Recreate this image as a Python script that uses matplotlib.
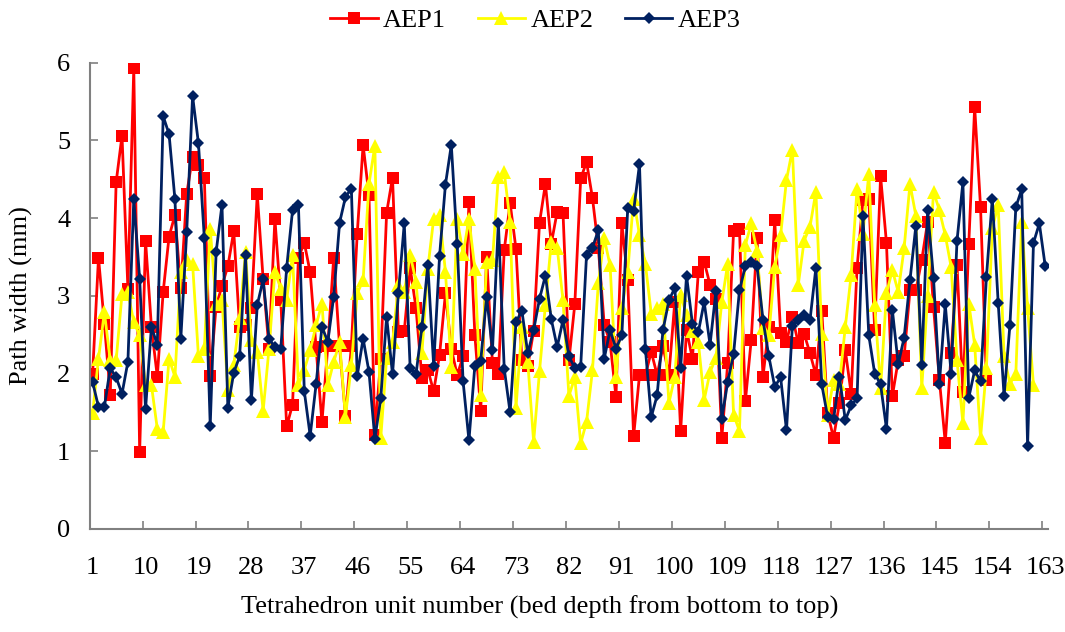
"""Path width per tetrahedron unit for three AEP samples."""

import matplotlib

matplotlib.use("Agg")
import matplotlib.pyplot as plt
import numpy as np

plt.rcParams["font.family"] = ["Liberation Serif", "DejaVu Serif"]

AEP1 = [
    2.00, 3.49, 2.64, 1.73, 4.46, 5.06, 3.09, 5.93, 0.99, 3.71,
    2.60, 1.96, 3.05, 3.76, 4.04, 3.10, 4.31, 4.79, 4.68, 4.52,
    1.97, 2.86, 3.13, 3.38, 3.83, 2.60, 2.62, 2.84, 4.31, 3.21,
    2.32, 3.99, 2.94, 1.32, 1.60, 3.49, 3.68, 3.30, 2.34, 1.37,
    2.36, 3.49, 2.35, 1.45, 2.35, 3.80, 4.94, 4.29, 1.21, 2.19,
    4.07, 4.52, 2.54, 2.55, 3.36, 2.84, 1.94, 2.05, 1.77, 2.24,
    3.03, 2.32, 1.98, 2.22, 4.21, 2.50, 1.52, 3.50, 2.13, 2.00,
    3.59, 4.19, 3.60, 2.17, 2.10, 2.55, 3.94, 4.44, 3.67, 4.08,
    4.06, 2.17, 2.89, 4.51, 4.72, 4.26, 3.62, 2.63, 2.40, 1.70,
    3.93, 3.20, 1.19, 1.98, 1.98, 2.28, 1.98, 2.35, 1.98, 2.92,
    1.26, 2.56, 2.19, 3.30, 3.44, 3.14, 2.96, 1.17, 2.13, 3.83,
    3.86, 1.64, 2.43, 3.74, 1.96, 2.60, 3.97, 2.52, 2.41, 2.73,
    2.39, 2.51, 2.26, 1.98, 2.81, 1.49, 1.17, 1.62, 2.30, 1.74,
    3.36, 4.23, 4.25, 2.56, 4.54, 3.68, 1.71, 2.17, 2.22, 3.07,
    3.07, 3.46, 3.95, 2.86, 1.92, 1.11, 2.26, 3.40, 1.76, 3.67,
    5.43, 4.14, 1.92,
]
AEP2 = [
    1.49, 2.19, 2.79, 2.17, 2.17, 3.02, 3.05, 2.66, 2.49, 1.85,
    1.85, 1.29, 1.25, 2.19, 1.96, 3.31, 3.46, 3.41, 2.22, 2.32,
    3.86, 2.90, 2.94, 1.79, 2.11, 2.71, 3.56, 2.43, 2.28, 1.52,
    2.32, 3.31, 3.09, 2.95, 3.52, 1.85, 2.05, 2.30, 2.62, 2.90,
    1.85, 2.15, 2.40, 1.44, 2.11, 3.03, 3.20, 4.44, 4.93, 1.17,
    2.20, 2.40, 3.14, 3.05, 3.53, 3.18, 2.26, 3.35, 3.99, 4.04,
    3.31, 2.08, 3.99, 3.54, 3.99, 3.35, 1.73, 3.44, 3.46, 4.53,
    4.59, 3.95, 1.56, 2.60, 2.15, 1.12, 2.03, 2.88, 3.69, 3.62,
    2.94, 1.71, 1.95, 1.10, 1.38, 2.04, 3.16, 3.74, 3.39, 1.95,
    2.84, 3.31, 4.25, 3.78, 3.41, 2.77, 2.84, 2.90, 1.62, 1.96,
    3.01, 2.75, 2.55, 2.41, 1.66, 2.02, 2.20, 2.92, 3.41, 1.47,
    1.26, 3.65, 3.93, 3.57, 2.58, 2.50, 3.37, 3.78, 4.49, 4.88,
    3.14, 3.71, 3.89, 4.34, 2.51, 1.47, 1.92, 1.87, 2.60, 3.27,
    4.38, 3.80, 4.57, 2.88, 1.81, 3.03, 3.33, 3.05, 3.61, 4.44,
    4.03, 1.81, 3.00, 4.34, 4.10, 3.78, 3.37, 2.17, 1.36, 2.90,
    2.37, 1.17, 2.07, 3.87, 4.17, 2.22, 1.87, 2.00, 3.95, 2.84,
    1.85,
]
AEP3 = [
    1.89, 1.57, 1.57, 2.07, 1.95, 1.74, 2.15, 4.24, 3.22, 1.54,
    2.60, 2.37, 5.31, 5.08, 4.24, 2.45, 3.82, 5.57, 4.96, 3.74,
    1.33, 3.56, 4.17, 1.56, 2.01, 2.22, 3.52, 1.66, 2.88, 3.21,
    2.45, 2.34, 2.32, 3.36, 4.10, 4.17, 1.77, 1.20, 1.86, 2.60,
    2.41, 2.99, 3.94, 4.27, 4.38, 1.97, 2.45, 2.02, 1.16, 1.68,
    2.73, 1.99, 3.03, 3.93, 2.07, 1.99, 2.60, 3.40, 2.10, 3.51,
    4.43, 4.94, 3.67, 1.90, 1.14, 2.10, 2.16, 2.99, 2.30, 3.94,
    2.06, 1.50, 2.66, 2.81, 2.26, 2.56, 2.96, 3.26, 2.70, 2.34,
    2.69, 2.22, 2.07, 2.09, 3.53, 3.62, 3.84, 2.19, 2.56, 2.32,
    2.49, 4.13, 4.09, 4.69, 2.32, 1.44, 1.72, 2.56, 2.94, 3.10,
    2.07, 3.26, 2.64, 2.53, 2.92, 2.37, 3.06, 1.42, 1.89, 2.25,
    3.07, 3.38, 3.43, 3.38, 2.69, 2.22, 1.83, 1.95, 1.27, 2.61,
    2.69, 2.75, 2.69, 3.36, 1.86, 1.44, 1.41, 1.96, 1.40, 1.59,
    1.68, 4.03, 2.49, 2.00, 1.86, 1.29, 2.82, 2.12, 2.46, 3.20,
    3.90, 2.11, 4.10, 3.23, 1.87, 2.89, 2.00, 3.71, 4.46, 1.69,
    2.04, 1.90, 3.24, 4.25, 2.91, 1.71, 2.63, 4.14, 4.37, 1.07,
    3.68, 3.93, 3.38,
]
N_UNITS = 163
LABEL_STEP = 9

fig = plt.figure(figsize=(10.65, 6.32), dpi=100)
ax = fig.add_axes([0.0842, 0.163, 0.9, 0.738])

series = [
    ("AEP1", AEP1, "#FF0000", "s", 8.5),
    ("AEP2", AEP2, "#FFFF00", "^", 9.5),
    ("AEP3", AEP3, "#002060", "D", 6.5),
]
for name, values, color, marker, size in series:
    x = np.arange(1, len(values) + 1)
    ax.plot(x, values, color=color, linewidth=2.0, marker=marker,
            markersize=size, markeredgewidth=0, label=name)

ax.set_xlim(0.5, N_UNITS + 0.5)
ax.set_ylim(0, 6)

# tick marks sit between categories, labels on the categories
ax.set_xticks(np.arange(0.5, N_UNITS, LABEL_STEP))
ax.set_xticklabels([])
ax.set_xticks(np.arange(1, N_UNITS + 1, LABEL_STEP), minor=True)
ax.set_xticklabels([str(v) for v in range(1, N_UNITS + 1, LABEL_STEP)],
                   minor=True, fontsize=19)
ax.tick_params(axis="x", which="major", direction="in", length=6,
               color="#808080", width=1.2)
ax.tick_params(axis="x", which="minor", length=0, pad=20)
ax.set_yticks(range(0, 7))
ax.tick_params(axis="y", direction="in", length=6, color="#808080",
               width=1.2, labelsize=19, pad=14)

for side in ("top", "right"):
    ax.spines[side].set_visible(False)
for side in ("left", "bottom"):
    ax.spines[side].set_color("#808080")
    ax.spines[side].set_linewidth(1.5)

ax.set_xlabel("Tetrahedron unit number (bed depth from bottom to top)",
              fontsize=19)
ax.xaxis.set_label_coords(0.47, -0.142)
ax.set_ylabel("Path width (mm)", fontsize=19, labelpad=17)

ax.legend(loc="upper center", bbox_to_anchor=(0.465, 1.166), ncol=3,
          frameon=False, fontsize=19, handlelength=1.8, columnspacing=1.2,
          handletextpad=0.2)

fig.savefig("out.png", dpi=100)
